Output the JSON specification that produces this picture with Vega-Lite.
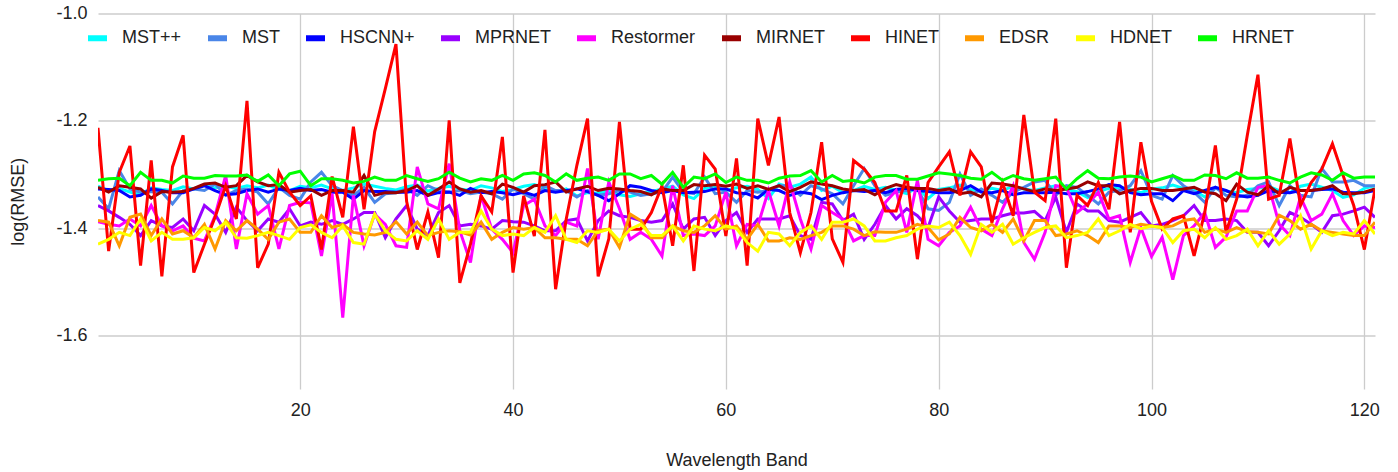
{
"$schema": "https://vega.github.io/schema/vega-lite/v6.json",
"width": 1277, "height": 375.5,
"autosize": "none",
"padding": {"left": 98, "top": 13.5, "right": 23, "bottom": 83},
"background": "white",
"config": {"font": "Liberation Sans", "view": {"stroke": null}},
"data": {"values": [
{"band":1,"MST++":-1.322,"MST":-1.342,"HSCNN+":-1.327,"MPRNET":-1.358,"Restormer":-1.388,"MIRNET":-1.324,"HINET":-1.213,"EDSR":-1.386,"HDNET":-1.430,"HRNET":-1.311},
{"band":2,"MST++":-1.330,"MST":-1.364,"HSCNN+":-1.328,"MPRNET":-1.368,"Restormer":-1.393,"MIRNET":-1.333,"HINET":-1.443,"EDSR":-1.389,"HDNET":-1.421,"HRNET":-1.308},
{"band":3,"MST++":-1.326,"MST":-1.293,"HSCNN+":-1.330,"MPRNET":-1.380,"Restormer":-1.396,"MIRNET":-1.321,"HINET":-1.296,"EDSR":-1.433,"HDNET":-1.408,"HRNET":-1.307},
{"band":4,"MST++":-1.333,"MST":-1.327,"HSCNN+":-1.342,"MPRNET":-1.393,"Restormer":-1.383,"MIRNET":-1.324,"HINET":-1.247,"EDSR":-1.380,"HDNET":-1.414,"HRNET":-1.321},
{"band":5,"MST++":-1.338,"MST":-1.333,"HSCNN+":-1.339,"MPRNET":-1.414,"Restormer":-1.396,"MIRNET":-1.327,"HINET":-1.470,"EDSR":-1.374,"HDNET":-1.383,"HRNET":-1.296},
{"band":6,"MST++":-1.325,"MST":-1.332,"HSCNN+":-1.327,"MPRNET":-1.386,"Restormer":-1.358,"MIRNET":-1.344,"HINET":-1.274,"EDSR":-1.414,"HDNET":-1.424,"HRNET":-1.311},
{"band":7,"MST++":-1.328,"MST":-1.333,"HSCNN+":-1.330,"MPRNET":-1.396,"Restormer":-1.396,"MIRNET":-1.332,"HINET":-1.490,"EDSR":-1.383,"HDNET":-1.408,"HRNET":-1.311},
{"band":8,"MST++":-1.330,"MST":-1.355,"HSCNN+":-1.334,"MPRNET":-1.399,"Restormer":-1.405,"MIRNET":-1.333,"HINET":-1.286,"EDSR":-1.411,"HDNET":-1.421,"HRNET":-1.316},
{"band":9,"MST++":-1.323,"MST":-1.330,"HSCNN+":-1.334,"MPRNET":-1.383,"Restormer":-1.396,"MIRNET":-1.332,"HINET":-1.227,"EDSR":-1.405,"HDNET":-1.421,"HRNET":-1.303},
{"band":10,"MST++":-1.327,"MST":-1.327,"HSCNN+":-1.327,"MPRNET":-1.405,"Restormer":-1.419,"MIRNET":-1.326,"HINET":-1.483,"EDSR":-1.418,"HDNET":-1.418,"HRNET":-1.307},
{"band":11,"MST++":-1.320,"MST":-1.330,"HSCNN+":-1.321,"MPRNET":-1.358,"Restormer":-1.424,"MIRNET":-1.318,"HINET":-1.430,"EDSR":-1.393,"HDNET":-1.399,"HRNET":-1.307},
{"band":12,"MST++":-1.325,"MST":-1.318,"HSCNN+":-1.330,"MPRNET":-1.374,"Restormer":-1.377,"MIRNET":-1.316,"HINET":-1.380,"EDSR":-1.439,"HDNET":-1.405,"HRNET":-1.302},
{"band":13,"MST++":-1.322,"MST":-1.339,"HSCNN+":-1.338,"MPRNET":-1.408,"Restormer":-1.302,"MIRNET":-1.324,"HINET":-1.321,"EDSR":-1.386,"HDNET":-1.389,"HRNET":-1.303},
{"band":14,"MST++":-1.326,"MST":-1.330,"HSCNN+":-1.336,"MPRNET":-1.361,"Restormer":-1.439,"MIRNET":-1.321,"HINET":-1.383,"EDSR":-1.405,"HDNET":-1.418,"HRNET":-1.303},
{"band":15,"MST++":-1.321,"MST":-1.327,"HSCNN+":-1.330,"MPRNET":-1.386,"Restormer":-1.336,"MIRNET":-1.302,"HINET":-1.163,"EDSR":-1.386,"HDNET":-1.419,"HRNET":-1.301},
{"band":16,"MST++":-1.325,"MST":-1.333,"HSCNN+":-1.327,"MPRNET":-1.405,"Restormer":-1.374,"MIRNET":-1.314,"HINET":-1.474,"EDSR":-1.402,"HDNET":-1.414,"HRNET":-1.313},
{"band":17,"MST++":-1.320,"MST":-1.355,"HSCNN+":-1.333,"MPRNET":-1.383,"Restormer":-1.358,"MIRNET":-1.321,"HINET":-1.430,"EDSR":-1.421,"HDNET":-1.408,"HRNET":-1.301},
{"band":18,"MST++":-1.328,"MST":-1.324,"HSCNN+":-1.327,"MPRNET":-1.389,"Restormer":-1.439,"MIRNET":-1.319,"HINET":-1.296,"EDSR":-1.389,"HDNET":-1.414,"HRNET":-1.321},
{"band":19,"MST++":-1.330,"MST":-1.339,"HSCNN+":-1.330,"MPRNET":-1.364,"Restormer":-1.358,"MIRNET":-1.333,"HINET":-1.333,"EDSR":-1.383,"HDNET":-1.421,"HRNET":-1.299},
{"band":20,"MST++":-1.322,"MST":-1.346,"HSCNN+":-1.326,"MPRNET":-1.396,"Restormer":-1.352,"MIRNET":-1.330,"HINET":-1.358,"EDSR":-1.408,"HDNET":-1.399,"HRNET":-1.294},
{"band":21,"MST++":-1.325,"MST":-1.314,"HSCNN+":-1.330,"MPRNET":-1.389,"Restormer":-1.353,"MIRNET":-1.328,"HINET":-1.340,"EDSR":-1.408,"HDNET":-1.394,"HRNET":-1.321},
{"band":22,"MST++":-1.320,"MST":-1.296,"HSCNN+":-1.328,"MPRNET":-1.393,"Restormer":-1.452,"MIRNET":-1.339,"HINET":-1.440,"EDSR":-1.377,"HDNET":-1.408,"HRNET":-1.308},
{"band":23,"MST++":-1.327,"MST":-1.321,"HSCNN+":-1.333,"MPRNET":-1.386,"Restormer":-1.336,"MIRNET":-1.330,"HINET":-1.304,"EDSR":-1.399,"HDNET":-1.418,"HRNET":-1.308},
{"band":24,"MST++":-1.330,"MST":-1.330,"HSCNN+":-1.333,"MPRNET":-1.393,"Restormer":-1.567,"MIRNET":-1.330,"HINET":-1.380,"EDSR":-1.393,"HDNET":-1.396,"HRNET":-1.311},
{"band":25,"MST++":-1.325,"MST":-1.339,"HSCNN+":-1.346,"MPRNET":-1.383,"Restormer":-1.339,"MIRNET":-1.333,"HINET":-1.211,"EDSR":-1.408,"HDNET":-1.427,"HRNET":-1.316},
{"band":26,"MST++":-1.318,"MST":-1.324,"HSCNN+":-1.330,"MPRNET":-1.371,"Restormer":-1.433,"MIRNET":-1.302,"HINET":-1.365,"EDSR":-1.411,"HDNET":-1.430,"HRNET":-1.313},
{"band":27,"MST++":-1.322,"MST":-1.352,"HSCNN+":-1.332,"MPRNET":-1.371,"Restormer":-1.374,"MIRNET":-1.339,"HINET":-1.220,"EDSR":-1.413,"HDNET":-1.374,"HRNET":-1.305},
{"band":28,"MST++":-1.326,"MST":-1.336,"HSCNN+":-1.332,"MPRNET":-1.418,"Restormer":-1.393,"MIRNET":-1.334,"HINET":-1.140,"EDSR":-1.408,"HDNET":-1.405,"HRNET":-1.311},
{"band":29,"MST++":-1.329,"MST":-1.334,"HSCNN+":-1.333,"MPRNET":-1.383,"Restormer":-1.433,"MIRNET":-1.334,"HINET":-1.057,"EDSR":-1.388,"HDNET":-1.421,"HRNET":-1.311},
{"band":30,"MST++":-1.323,"MST":-1.327,"HSCNN+":-1.333,"MPRNET":-1.358,"Restormer":-1.436,"MIRNET":-1.330,"HINET":-1.350,"EDSR":-1.411,"HDNET":-1.424,"HRNET":-1.302},
{"band":31,"MST++":-1.320,"MST":-1.339,"HSCNN+":-1.330,"MPRNET":-1.402,"Restormer":-1.286,"MIRNET":-1.321,"HINET":-1.440,"EDSR":-1.389,"HDNET":-1.405,"HRNET":-1.308},
{"band":32,"MST++":-1.331,"MST":-1.321,"HSCNN+":-1.339,"MPRNET":-1.414,"Restormer":-1.355,"MIRNET":-1.339,"HINET":-1.370,"EDSR":-1.414,"HDNET":-1.421,"HRNET":-1.313},
{"band":33,"MST++":-1.326,"MST":-1.330,"HSCNN+":-1.334,"MPRNET":-1.371,"Restormer":-1.364,"MIRNET":-1.327,"HINET":-1.455,"EDSR":-1.408,"HDNET":-1.383,"HRNET":-1.308},
{"band":34,"MST++":-1.322,"MST":-1.333,"HSCNN+":-1.333,"MPRNET":-1.358,"Restormer":-1.280,"MIRNET":-1.314,"HINET":-1.199,"EDSR":-1.405,"HDNET":-1.421,"HRNET":-1.296},
{"band":35,"MST++":-1.327,"MST":-1.330,"HSCNN+":-1.339,"MPRNET":-1.396,"Restormer":-1.405,"MIRNET":-1.327,"HINET":-1.502,"EDSR":-1.407,"HDNET":-1.408,"HRNET":-1.307},
{"band":36,"MST++":-1.330,"MST":-1.336,"HSCNN+":-1.326,"MPRNET":-1.393,"Restormer":-1.464,"MIRNET":-1.333,"HINET":-1.430,"EDSR":-1.413,"HDNET":-1.408,"HRNET":-1.314},
{"band":37,"MST++":-1.321,"MST":-1.333,"HSCNN+":-1.334,"MPRNET":-1.396,"Restormer":-1.339,"MIRNET":-1.330,"HINET":-1.340,"EDSR":-1.389,"HDNET":-1.368,"HRNET":-1.308},
{"band":38,"MST++":-1.325,"MST":-1.336,"HSCNN+":-1.332,"MPRNET":-1.402,"Restormer":-1.402,"MIRNET":-1.336,"HINET":-1.370,"EDSR":-1.421,"HDNET":-1.402,"HRNET":-1.311},
{"band":39,"MST++":-1.332,"MST":-1.346,"HSCNN+":-1.334,"MPRNET":-1.386,"Restormer":-1.421,"MIRNET":-1.318,"HINET":-1.230,"EDSR":-1.408,"HDNET":-1.414,"HRNET":-1.302},
{"band":40,"MST++":-1.328,"MST":-1.327,"HSCNN+":-1.338,"MPRNET":-1.388,"Restormer":-1.446,"MIRNET":-1.324,"HINET":-1.483,"EDSR":-1.399,"HDNET":-1.411,"HRNET":-1.311},
{"band":41,"MST++":-1.322,"MST":-1.336,"HSCNN+":-1.333,"MPRNET":-1.389,"Restormer":-1.358,"MIRNET":-1.333,"HINET":-1.340,"EDSR":-1.402,"HDNET":-1.414,"HRNET":-1.299},
{"band":42,"MST++":-1.319,"MST":-1.346,"HSCNN+":-1.339,"MPRNET":-1.396,"Restormer":-1.346,"MIRNET":-1.321,"HINET":-1.415,"EDSR":-1.399,"HDNET":-1.399,"HRNET":-1.297},
{"band":43,"MST++":-1.326,"MST":-1.321,"HSCNN+":-1.330,"MPRNET":-1.405,"Restormer":-1.396,"MIRNET":-1.319,"HINET":-1.217,"EDSR":-1.418,"HDNET":-1.408,"HRNET":-1.302},
{"band":44,"MST++":-1.332,"MST":-1.330,"HSCNN+":-1.333,"MPRNET":-1.405,"Restormer":-1.414,"MIRNET":-1.314,"HINET":-1.514,"EDSR":-1.418,"HDNET":-1.377,"HRNET":-1.314},
{"band":45,"MST++":-1.327,"MST":-1.330,"HSCNN+":-1.330,"MPRNET":-1.386,"Restormer":-1.389,"MIRNET":-1.333,"HINET":-1.383,"EDSR":-1.421,"HDNET":-1.421,"HRNET":-1.299},
{"band":46,"MST++":-1.340,"MST":-1.342,"HSCNN+":-1.327,"MPRNET":-1.383,"Restormer":-1.396,"MIRNET":-1.327,"HINET":-1.283,"EDSR":-1.421,"HDNET":-1.427,"HRNET":-1.311},
{"band":47,"MST++":-1.334,"MST":-1.330,"HSCNN+":-1.332,"MPRNET":-1.424,"Restormer":-1.289,"MIRNET":-1.322,"HINET":-1.196,"EDSR":-1.433,"HDNET":-1.405,"HRNET":-1.307},
{"band":48,"MST++":-1.335,"MST":-1.339,"HSCNN+":-1.339,"MPRNET":-1.386,"Restormer":-1.421,"MIRNET":-1.330,"HINET":-1.490,"EDSR":-1.405,"HDNET":-1.408,"HRNET":-1.305},
{"band":49,"MST++":-1.330,"MST":-1.336,"HSCNN+":-1.349,"MPRNET":-1.368,"Restormer":-1.314,"MIRNET":-1.326,"HINET":-1.420,"EDSR":-1.402,"HDNET":-1.402,"HRNET":-1.311},
{"band":50,"MST++":-1.338,"MST":-1.330,"HSCNN+":-1.336,"MPRNET":-1.377,"Restormer":-1.364,"MIRNET":-1.327,"HINET":-1.202,"EDSR":-1.436,"HDNET":-1.424,"HRNET":-1.299},
{"band":51,"MST++":-1.341,"MST":-1.333,"HSCNN+":-1.321,"MPRNET":-1.380,"Restormer":-1.421,"MIRNET":-1.330,"HINET":-1.402,"EDSR":-1.374,"HDNET":-1.402,"HRNET":-1.299},
{"band":52,"MST++":-1.336,"MST":-1.339,"HSCNN+":-1.324,"MPRNET":-1.386,"Restormer":-1.408,"MIRNET":-1.332,"HINET":-1.402,"EDSR":-1.386,"HDNET":-1.393,"HRNET":-1.308},
{"band":53,"MST++":-1.332,"MST":-1.336,"HSCNN+":-1.330,"MPRNET":-1.389,"Restormer":-1.421,"MIRNET":-1.338,"HINET":-1.371,"EDSR":-1.418,"HDNET":-1.414,"HRNET":-1.302},
{"band":54,"MST++":-1.327,"MST":-1.333,"HSCNN+":-1.334,"MPRNET":-1.386,"Restormer":-1.452,"MIRNET":-1.327,"HINET":-1.321,"EDSR":-1.418,"HDNET":-1.414,"HRNET":-1.318},
{"band":55,"MST++":-1.322,"MST":-1.305,"HSCNN+":-1.330,"MPRNET":-1.355,"Restormer":-1.321,"MIRNET":-1.330,"HINET":-1.433,"EDSR":-1.396,"HDNET":-1.396,"HRNET":-1.296},
{"band":56,"MST++":-1.338,"MST":-1.333,"HSCNN+":-1.334,"MPRNET":-1.402,"Restormer":-1.414,"MIRNET":-1.330,"HINET":-1.283,"EDSR":-1.405,"HDNET":-1.424,"HRNET":-1.324},
{"band":57,"MST++":-1.345,"MST":-1.336,"HSCNN+":-1.333,"MPRNET":-1.383,"Restormer":-1.411,"MIRNET":-1.319,"HINET":-1.480,"EDSR":-1.408,"HDNET":-1.396,"HRNET":-1.305},
{"band":58,"MST++":-1.326,"MST":-1.305,"HSCNN+":-1.332,"MPRNET":-1.380,"Restormer":-1.414,"MIRNET":-1.321,"HINET":-1.264,"EDSR":-1.396,"HDNET":-1.402,"HRNET":-1.308},
{"band":59,"MST++":-1.324,"MST":-1.336,"HSCNN+":-1.327,"MPRNET":-1.414,"Restormer":-1.396,"MIRNET":-1.319,"HINET":-1.290,"EDSR":-1.377,"HDNET":-1.405,"HRNET":-1.299},
{"band":60,"MST++":-1.330,"MST":-1.333,"HSCNN+":-1.327,"MPRNET":-1.386,"Restormer":-1.333,"MIRNET":-1.322,"HINET":-1.415,"EDSR":-1.402,"HDNET":-1.396,"HRNET":-1.315},
{"band":61,"MST++":-1.325,"MST":-1.352,"HSCNN+":-1.334,"MPRNET":-1.371,"Restormer":-1.433,"MIRNET":-1.318,"HINET":-1.270,"EDSR":-1.396,"HDNET":-1.401,"HRNET":-1.305},
{"band":62,"MST++":-1.322,"MST":-1.330,"HSCNN+":-1.336,"MPRNET":-1.408,"Restormer":-1.393,"MIRNET":-1.326,"HINET":-1.470,"EDSR":-1.421,"HDNET":-1.427,"HRNET":-1.311},
{"band":63,"MST++":-1.328,"MST":-1.333,"HSCNN+":-1.344,"MPRNET":-1.383,"Restormer":-1.396,"MIRNET":-1.321,"HINET":-1.196,"EDSR":-1.393,"HDNET":-1.443,"HRNET":-1.311},
{"band":64,"MST++":-1.345,"MST":-1.330,"HSCNN+":-1.328,"MPRNET":-1.383,"Restormer":-1.330,"MIRNET":-1.328,"HINET":-1.283,"EDSR":-1.424,"HDNET":-1.408,"HRNET":-1.316},
{"band":65,"MST++":-1.318,"MST":-1.321,"HSCNN+":-1.330,"MPRNET":-1.383,"Restormer":-1.396,"MIRNET":-1.321,"HINET":-1.193,"EDSR":-1.424,"HDNET":-1.411,"HRNET":-1.307},
{"band":66,"MST++":-1.324,"MST":-1.321,"HSCNN+":-1.339,"MPRNET":-1.377,"Restormer":-1.314,"MIRNET":-1.332,"HINET":-1.371,"EDSR":-1.418,"HDNET":-1.433,"HRNET":-1.303},
{"band":67,"MST++":-1.318,"MST":-1.339,"HSCNN+":-1.333,"MPRNET":-1.414,"Restormer":-1.383,"MIRNET":-1.324,"HINET":-1.446,"EDSR":-1.421,"HDNET":-1.408,"HRNET":-1.302},
{"band":68,"MST++":-1.305,"MST":-1.321,"HSCNN+":-1.336,"MPRNET":-1.421,"Restormer":-1.439,"MIRNET":-1.314,"HINET":-1.371,"EDSR":-1.414,"HDNET":-1.396,"HRNET":-1.293},
{"band":69,"MST++":-1.330,"MST":-1.327,"HSCNN+":-1.347,"MPRNET":-1.352,"Restormer":-1.358,"MIRNET":-1.318,"HINET":-1.240,"EDSR":-1.408,"HDNET":-1.421,"HRNET":-1.314},
{"band":70,"MST++":-1.322,"MST":-1.336,"HSCNN+":-1.339,"MPRNET":-1.355,"Restormer":-1.371,"MIRNET":-1.321,"HINET":-1.420,"EDSR":-1.396,"HDNET":-1.389,"HRNET":-1.302},
{"band":71,"MST++":-1.334,"MST":-1.355,"HSCNN+":-1.334,"MPRNET":-1.386,"Restormer":-1.383,"MIRNET":-1.327,"HINET":-1.464,"EDSR":-1.396,"HDNET":-1.389,"HRNET":-1.313},
{"band":72,"MST++":-1.330,"MST":-1.321,"HSCNN+":-1.330,"MPRNET":-1.374,"Restormer":-1.424,"MIRNET":-1.330,"HINET":-1.274,"EDSR":-1.402,"HDNET":-1.383,"HRNET":-1.311},
{"band":73,"MST++":-1.322,"MST":-1.289,"HSCNN+":-1.332,"MPRNET":-1.421,"Restormer":-1.414,"MIRNET":-1.328,"HINET":-1.290,"EDSR":-1.414,"HDNET":-1.396,"HRNET":-1.316},
{"band":74,"MST++":-1.328,"MST":-1.321,"HSCNN+":-1.330,"MPRNET":-1.393,"Restormer":-1.414,"MIRNET":-1.338,"HINET":-1.315,"EDSR":-1.407,"HDNET":-1.424,"HRNET":-1.305},
{"band":75,"MST++":-1.324,"MST":-1.339,"HSCNN+":-1.334,"MPRNET":-1.358,"Restormer":-1.352,"MIRNET":-1.326,"HINET":-1.368,"EDSR":-1.408,"HDNET":-1.424,"HRNET":-1.302},
{"band":76,"MST++":-1.330,"MST":-1.333,"HSCNN+":-1.328,"MPRNET":-1.383,"Restormer":-1.330,"MIRNET":-1.319,"HINET":-1.368,"EDSR":-1.408,"HDNET":-1.418,"HRNET":-1.302},
{"band":77,"MST++":-1.336,"MST":-1.330,"HSCNN+":-1.326,"MPRNET":-1.364,"Restormer":-1.408,"MIRNET":-1.324,"HINET":-1.302,"EDSR":-1.402,"HDNET":-1.414,"HRNET":-1.309},
{"band":78,"MST++":-1.324,"MST":-1.327,"HSCNN+":-1.330,"MPRNET":-1.377,"Restormer":-1.311,"MIRNET":-1.326,"HINET":-1.458,"EDSR":-1.393,"HDNET":-1.402,"HRNET":-1.309},
{"band":79,"MST++":-1.345,"MST":-1.364,"HSCNN+":-1.332,"MPRNET":-1.399,"Restormer":-1.421,"MIRNET":-1.326,"HINET":-1.315,"EDSR":-1.399,"HDNET":-1.396,"HRNET":-1.303},
{"band":80,"MST++":-1.328,"MST":-1.367,"HSCNN+":-1.334,"MPRNET":-1.342,"Restormer":-1.433,"MIRNET":-1.330,"HINET":-1.286,"EDSR":-1.422,"HDNET":-1.399,"HRNET":-1.297},
{"band":81,"MST++":-1.325,"MST":-1.352,"HSCNN+":-1.334,"MPRNET":-1.368,"Restormer":-1.408,"MIRNET":-1.327,"HINET":-1.258,"EDSR":-1.411,"HDNET":-1.389,"HRNET":-1.299},
{"band":82,"MST++":-1.320,"MST":-1.299,"HSCNN+":-1.330,"MPRNET":-1.389,"Restormer":-1.396,"MIRNET":-1.336,"HINET":-1.339,"EDSR":-1.380,"HDNET":-1.414,"HRNET":-1.302},
{"band":83,"MST++":-1.328,"MST":-1.339,"HSCNN+":-1.321,"MPRNET":-1.386,"Restormer":-1.361,"MIRNET":-1.333,"HINET":-1.258,"EDSR":-1.399,"HDNET":-1.449,"HRNET":-1.307},
{"band":84,"MST++":-1.332,"MST":-1.327,"HSCNN+":-1.333,"MPRNET":-1.383,"Restormer":-1.402,"MIRNET":-1.342,"HINET":-1.286,"EDSR":-1.405,"HDNET":-1.393,"HRNET":-1.309},
{"band":85,"MST++":-1.326,"MST":-1.339,"HSCNN+":-1.334,"MPRNET":-1.383,"Restormer":-1.414,"MIRNET":-1.316,"HINET":-1.390,"EDSR":-1.393,"HDNET":-1.408,"HRNET":-1.296},
{"band":86,"MST++":-1.330,"MST":-1.352,"HSCNN+":-1.330,"MPRNET":-1.377,"Restormer":-1.364,"MIRNET":-1.318,"HINET":-1.315,"EDSR":-1.408,"HDNET":-1.393,"HRNET":-1.311},
{"band":87,"MST++":-1.322,"MST":-1.333,"HSCNN+":-1.338,"MPRNET":-1.372,"Restormer":-1.321,"MIRNET":-1.321,"HINET":-1.377,"EDSR":-1.383,"HDNET":-1.430,"HRNET":-1.302},
{"band":88,"MST++":-1.327,"MST":-1.324,"HSCNN+":-1.334,"MPRNET":-1.372,"Restormer":-1.427,"MIRNET":-1.327,"HINET":-1.189,"EDSR":-1.424,"HDNET":-1.418,"HRNET":-1.308},
{"band":89,"MST++":-1.330,"MST":-1.314,"HSCNN+":-1.334,"MPRNET":-1.369,"Restormer":-1.458,"MIRNET":-1.332,"HINET":-1.333,"EDSR":-1.386,"HDNET":-1.408,"HRNET":-1.311},
{"band":90,"MST++":-1.325,"MST":-1.311,"HSCNN+":-1.334,"MPRNET":-1.386,"Restormer":-1.408,"MIRNET":-1.327,"HINET":-1.349,"EDSR":-1.386,"HDNET":-1.399,"HRNET":-1.308},
{"band":91,"MST++":-1.321,"MST":-1.339,"HSCNN+":-1.333,"MPRNET":-1.342,"Restormer":-1.321,"MIRNET":-1.330,"HINET":-1.196,"EDSR":-1.414,"HDNET":-1.396,"HRNET":-1.305},
{"band":92,"MST++":-1.328,"MST":-1.321,"HSCNN+":-1.336,"MPRNET":-1.408,"Restormer":-1.324,"MIRNET":-1.327,"HINET":-1.474,"EDSR":-1.411,"HDNET":-1.418,"HRNET":-1.327},
{"band":93,"MST++":-1.332,"MST":-1.324,"HSCNN+":-1.336,"MPRNET":-1.355,"Restormer":-1.371,"MIRNET":-1.324,"HINET":-1.339,"EDSR":-1.405,"HDNET":-1.414,"HRNET":-1.308},
{"band":94,"MST++":-1.343,"MST":-1.339,"HSCNN+":-1.332,"MPRNET":-1.368,"Restormer":-1.355,"MIRNET":-1.314,"HINET":-1.358,"EDSR":-1.414,"HDNET":-1.408,"HRNET":-1.293},
{"band":95,"MST++":-1.332,"MST":-1.355,"HSCNN+":-1.327,"MPRNET":-1.368,"Restormer":-1.333,"MIRNET":-1.321,"HINET":-1.315,"EDSR":-1.427,"HDNET":-1.383,"HRNET":-1.307},
{"band":96,"MST++":-1.326,"MST":-1.333,"HSCNN+":-1.319,"MPRNET":-1.386,"Restormer":-1.383,"MIRNET":-1.321,"HINET":-1.365,"EDSR":-1.396,"HDNET":-1.414,"HRNET":-1.308},
{"band":97,"MST++":-1.324,"MST":-1.330,"HSCNN+":-1.321,"MPRNET":-1.389,"Restormer":-1.377,"MIRNET":-1.336,"HINET":-1.202,"EDSR":-1.396,"HDNET":-1.405,"HRNET":-1.305},
{"band":98,"MST++":-1.328,"MST":-1.321,"HSCNN+":-1.334,"MPRNET":-1.380,"Restormer":-1.464,"MIRNET":-1.330,"HINET":-1.408,"EDSR":-1.399,"HDNET":-1.393,"HRNET":-1.303},
{"band":99,"MST++":-1.334,"MST":-1.293,"HSCNN+":-1.338,"MPRNET":-1.371,"Restormer":-1.399,"MIRNET":-1.326,"HINET":-1.240,"EDSR":-1.393,"HDNET":-1.401,"HRNET":-1.305},
{"band":100,"MST++":-1.327,"MST":-1.339,"HSCNN+":-1.336,"MPRNET":-1.396,"Restormer":-1.453,"MIRNET":-1.326,"HINET":-1.350,"EDSR":-1.396,"HDNET":-1.396,"HRNET":-1.314},
{"band":101,"MST++":-1.325,"MST":-1.346,"HSCNN+":-1.336,"MPRNET":-1.393,"Restormer":-1.417,"MIRNET":-1.330,"HINET":-1.402,"EDSR":-1.399,"HDNET":-1.399,"HRNET":-1.308},
{"band":102,"MST++":-1.320,"MST":-1.302,"HSCNN+":-1.349,"MPRNET":-1.386,"Restormer":-1.496,"MIRNET":-1.330,"HINET":-1.383,"EDSR":-1.396,"HDNET":-1.427,"HRNET":-1.302},
{"band":103,"MST++":-1.326,"MST":-1.321,"HSCNN+":-1.330,"MPRNET":-1.377,"Restormer":-1.414,"MIRNET":-1.327,"HINET":-1.377,"EDSR":-1.386,"HDNET":-1.405,"HRNET":-1.311},
{"band":104,"MST++":-1.330,"MST":-1.333,"HSCNN+":-1.336,"MPRNET":-1.358,"Restormer":-1.396,"MIRNET":-1.324,"HINET":-1.452,"EDSR":-1.383,"HDNET":-1.402,"HRNET":-1.311},
{"band":105,"MST++":-1.342,"MST":-1.352,"HSCNN+":-1.330,"MPRNET":-1.386,"Restormer":-1.371,"MIRNET":-1.333,"HINET":-1.371,"EDSR":-1.408,"HDNET":-1.418,"HRNET":-1.301},
{"band":106,"MST++":-1.326,"MST":-1.324,"HSCNN+":-1.324,"MPRNET":-1.386,"Restormer":-1.436,"MIRNET":-1.336,"HINET":-1.246,"EDSR":-1.402,"HDNET":-1.399,"HRNET":-1.302},
{"band":107,"MST++":-1.331,"MST":-1.339,"HSCNN+":-1.330,"MPRNET":-1.383,"Restormer":-1.417,"MIRNET":-1.349,"HINET":-1.408,"EDSR":-1.408,"HDNET":-1.421,"HRNET":-1.308},
{"band":108,"MST++":-1.334,"MST":-1.342,"HSCNN+":-1.339,"MPRNET":-1.386,"Restormer":-1.368,"MIRNET":-1.318,"HINET":-1.346,"EDSR":-1.399,"HDNET":-1.414,"HRNET":-1.297},
{"band":109,"MST++":-1.328,"MST":-1.339,"HSCNN+":-1.342,"MPRNET":-1.408,"Restormer":-1.368,"MIRNET":-1.333,"HINET":-1.227,"EDSR":-1.407,"HDNET":-1.402,"HRNET":-1.307},
{"band":110,"MST++":-1.326,"MST":-1.321,"HSCNN+":-1.339,"MPRNET":-1.408,"Restormer":-1.324,"MIRNET":-1.338,"HINET":-1.114,"EDSR":-1.408,"HDNET":-1.433,"HRNET":-1.307},
{"band":111,"MST++":-1.322,"MST":-1.314,"HSCNN+":-1.330,"MPRNET":-1.433,"Restormer":-1.321,"MIRNET":-1.321,"HINET":-1.346,"EDSR":-1.411,"HDNET":-1.405,"HRNET":-1.305},
{"band":112,"MST++":-1.330,"MST":-1.358,"HSCNN+":-1.333,"MPRNET":-1.405,"Restormer":-1.393,"MIRNET":-1.336,"HINET":-1.339,"EDSR":-1.376,"HDNET":-1.430,"HRNET":-1.311},
{"band":113,"MST++":-1.334,"MST":-1.321,"HSCNN+":-1.334,"MPRNET":-1.371,"Restormer":-1.414,"MIRNET":-1.324,"HINET":-1.233,"EDSR":-1.386,"HDNET":-1.411,"HRNET":-1.316},
{"band":114,"MST++":-1.322,"MST":-1.339,"HSCNN+":-1.330,"MPRNET":-1.380,"Restormer":-1.342,"MIRNET":-1.330,"HINET":-1.358,"EDSR":-1.402,"HDNET":-1.377,"HRNET":-1.305},
{"band":115,"MST++":-1.318,"MST":-1.342,"HSCNN+":-1.330,"MPRNET":-1.393,"Restormer":-1.386,"MIRNET":-1.330,"HINET":-1.315,"EDSR":-1.393,"HDNET":-1.439,"HRNET":-1.297},
{"band":116,"MST++":-1.324,"MST":-1.289,"HSCNN+":-1.328,"MPRNET":-1.408,"Restormer":-1.374,"MIRNET":-1.327,"HINET":-1.290,"EDSR":-1.405,"HDNET":-1.405,"HRNET":-1.301},
{"band":117,"MST++":-1.330,"MST":-1.314,"HSCNN+":-1.327,"MPRNET":-1.377,"Restormer":-1.336,"MIRNET":-1.321,"HINET":-1.243,"EDSR":-1.408,"HDNET":-1.414,"HRNET":-1.311},
{"band":118,"MST++":-1.343,"MST":-1.314,"HSCNN+":-1.333,"MPRNET":-1.374,"Restormer":-1.386,"MIRNET":-1.336,"HINET":-1.302,"EDSR":-1.411,"HDNET":-1.408,"HRNET":-1.297},
{"band":119,"MST++":-1.338,"MST":-1.311,"HSCNN+":-1.334,"MPRNET":-1.368,"Restormer":-1.414,"MIRNET":-1.336,"HINET":-1.358,"EDSR":-1.414,"HDNET":-1.411,"HRNET":-1.307},
{"band":120,"MST++":-1.326,"MST":-1.321,"HSCNN+":-1.334,"MPRNET":-1.361,"Restormer":-1.396,"MIRNET":-1.333,"HINET":-1.440,"EDSR":-1.414,"HDNET":-1.386,"HRNET":-1.305},
{"band":121,"MST++":-1.321,"MST":-1.321,"HSCNN+":-1.330,"MPRNET":-1.380,"Restormer":-1.399,"MIRNET":-1.327,"HINET":-1.327,"EDSR":-1.389,"HDNET":-1.411,"HRNET":-1.305}
]},
"transform": [{"fold": ["MST++","MST","HSCNN+","MPRNET","Restormer","MIRNET","HINET","EDSR","HDNET","HRNET"], "as": ["model","value"]}],
"mark": {"type": "line", "strokeWidth": 3, "clip": true},
"encoding": {
  "x": {"field": "band", "type": "quantitative",
        "scale": {"domain": [1, 121], "nice": false, "zero": false},
        "axis": {"values": [20,40,60,80,100,120], "title": "Wavelength Band", "grid": true, "gridColor": "#cccccc", "gridWidth": 1.3,
                 "ticks": false, "domain": false, "labelFontSize": 18, "labelColor": "#222222", "labelPadding": 12,
                 "titleFontSize": 18, "titleFontWeight": "normal", "titleColor": "#222222", "titlePadding": 32}},
  "y": {"field": "value", "type": "quantitative",
        "scale": {"domain": [-1.7, -1.0], "nice": false, "zero": false},
        "axis": {"values": [-1.6,-1.4,-1.2,-1.0], "labelExpr": "replace(format(datum.value, '.1f'), '\u2212', '-')", "title": "log(RMSE)", "grid": true, "gridColor": "#cccccc", "gridWidth": 1.3,
                 "ticks": false, "domain": false, "labelFontSize": 18, "labelColor": "#222222", "labelPadding": 11,
                 "titleFontSize": 18, "titleFontWeight": "normal", "titleColor": "#222222", "titlePadding": 28}},
  "color": {"field": "model", "type": "nominal",
            "scale": {"domain": ["MST++","MST","HSCNN+","MPRNET","Restormer","MIRNET","HINET","EDSR","HDNET","HRNET"],
                      "range": ["#00ffff","#4a86e8","#0000ff","#9900ff","#ff00ff","#990000","#ff0000","#ff9900","#ffff00","#00ff00"]},
            "legend": {"orient": "none", "legendX": -13, "legendY": 12, "direction": "horizontal", "title": null,
                       "symbolType": "stroke", "symbolSize": 361, "symbolStrokeWidth": 6,
                       "labelFontSize": 18, "labelColor": "#222222", "labelOffset": 12, "columnPadding": 14, "labelLimit": 300}}
}
}
